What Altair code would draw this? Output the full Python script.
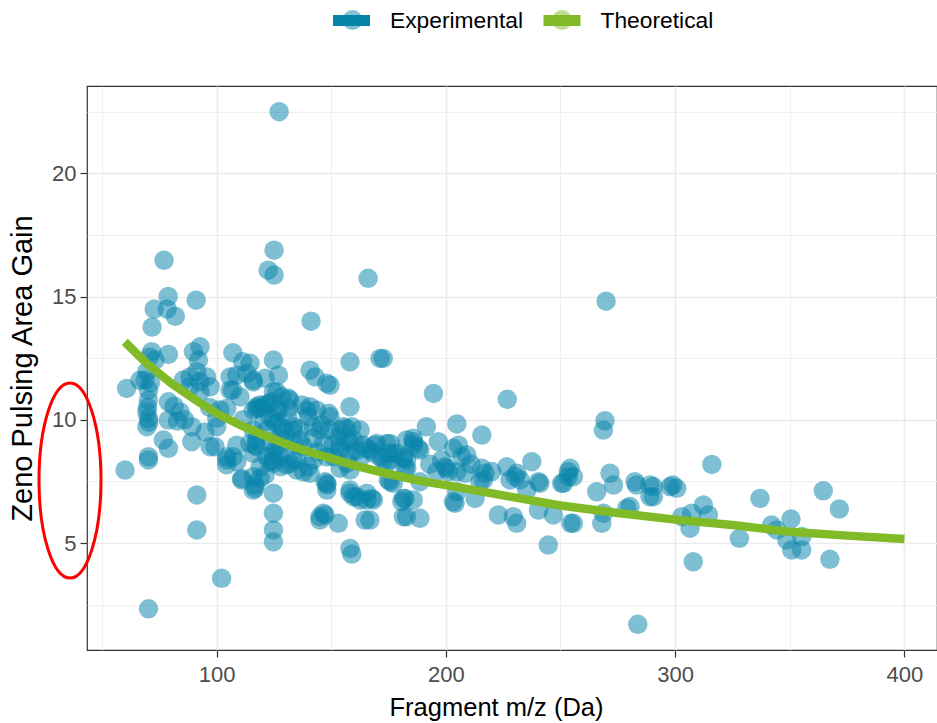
import altair as alt
import pandas as pd

# ---------------- data ----------------
exp_mz = [
    127.3, 77.1, 125.1, 122.5, 125.1, 166.1, 78.9, 72.8, 78.5, 82.0, 91.1, 141.2, 269.9, 71.9,
    71.7, 73.2, 79.0, 89.9, 92.8, 92.1, 107.1, 111.4, 60.8, 68.8,
    69.6, 70.3, 70.3, 69.6, 70.3, 69.6, 79.0, 79.0, 84.1, 85.5,
    88.4, 91.4, 92.8, 95.7, 97.2, 92.8, 88.4, 89.2, 89.2, 97.2,
    100.1, 100.1, 104.4, 105.9, 108.8, 105.9, 110.2, 113.2, 116.0, 117.5,
    76.8, 79.0, 70.3, 70.3, 60.1, 99.3, 104.4, 108.8, 104.4, 108.8,
    111.0, 116.0, 116.0, 91.4, 91.4, 102.2, 70.3, 70.8, 71.2, 69.9,
    70.5, 81.5, 83.0, 66.6, 86.0, 97.0, 101.5, 107.0, 111.6, 95.0,
    124.8, 127.0, 140.8, 148.1, 158.2, 171.3, 158.2, 143.0, 121.2, 116.0,
    124.8, 131.3, 140.8, 148.8, 116.0, 119.0, 122.6, 126.3, 124.8, 128.4,
    133.5, 127.7, 136.4, 142.2, 145.1, 153.9, 159.0, 162.6, 156.8, 161.1,
    166.9, 168.3, 116.0, 121.9, 124.8, 127.7, 133.5, 135.0, 140.8, 148.1,
    148.1, 158.2, 162.6, 165.5, 168.4, 145.1, 146.6, 153.1, 164.8, 158.2,
    159.0, 124.8, 124.8, 124.8, 124.8, 119.0, 111.0, 104.4, 107.3, 117.5,
    127.7, 142.2, 150.9, 153.9, 114.6, 126.3, 132.0, 139.3, 149.5, 145.9,
    149.5, 156.6, 158.2, 164.0, 169.1, 174.2, 177.1, 172.7, 182.9, 181.5,
    175.7, 181.5, 159.7, 167.7, 147.3, 148.1, 147.3, 137.9, 132.0, 124.8,
    119.0, 116.0, 116.8, 117.5, 121.2, 124.1, 127.0, 131.3, 123.3, 126.3,
    129.2, 133.5, 117.5, 114.6, 123.3, 124.8, 123.3, 130.6, 135.0, 140.0,
    137.9, 142.2, 146.6, 148.1, 153.1, 153.9, 158.2, 162.6, 156.8, 165.5,
    153.9, 158.2, 158.2, 136.4, 140.0, 143.7, 137.2, 128.4, 119.0, 116.8,
    116.8, 121.2, 155.3, 159.7, 169.8, 175.7, 178.6, 174.2, 182.9, 182.9,
    177.1, 180.8, 181.5, 165.5, 161.1, 145.1, 172.7, 149.5, 171.3, 175.0,
    175.7, 130.0, 126.0, 122.0, 128.0, 134.0, 144.0, 151.0, 120.5, 131.0,
    194.6, 226.8, 191.5, 204.8, 215.7, 185.8, 185.8, 188.0, 196.7, 203.3,
    205.5, 209.1, 198.2, 200.4, 201.1, 204.8, 208.4, 215.7, 217.1, 216.4,
    226.6, 230.2, 232.4, 237.5, 240.4, 235.3, 250.5, 253.4, 253.4, 181.5,
    182.2, 182.2, 182.9, 188.7, 204.0, 212.7, 222.9, 229.4, 230.9, 240.4,
    246.9, 244.7, 254.5, 204.8, 269.4, 268.7, 254.2, 255.6, 251.3, 271.6,
    273.1, 265.8, 282.5, 283.2, 289.0, 289.0, 297.8, 268.7, 268.0, 278.9,
    280.3, 255.6, 283.7, 231.0, 228.0, 241.0, 214.9, 203.3, 188.7, 185.8,
    166.9, 174.9, 185.8, 188.7, 199.6, 206.9, 193.0, 196.0, 211.0, 220.0,
    316.0, 290.5, 290.5, 299.0, 300.7, 302.9, 307.2, 306.5, 312.3, 314.5,
    307.9, 328.0, 337.0, 342.1, 344.3, 350.5, 348.7, 350.8, 355.2, 355.2,
    364.6, 371.6, 367.5,
]
exp_gain = [
    22.5, 16.47, 16.88, 16.07, 15.87, 15.74, 15.0, 14.49, 14.49, 14.2, 14.85, 14.0, 14.81, 13.76,
    12.76, 12.42, 12.65, 12.76, 12.96, 12.42, 12.72, 12.35, 11.27, 11.61,
    11.95, 11.2, 10.8, 10.32, 10.06, 9.72, 10.73, 9.99, 10.32, 11.61,
    11.74, 11.95, 11.54, 11.74, 11.34, 11.13, 11.34, 9.72, 9.11, 8.91,
    9.72, 10.06, 10.46, 11.74, 11.81, 11.2, 10.93, 11.88, 11.61, 10.46,
    9.18, 8.84, 8.5, 8.37, 7.96, 8.91, 8.5, 8.97, 8.17, 8.3,
    7.56, 7.15, 9.58, 6.95, 5.53, 3.57, 2.33, 12.55, 11.5, 10.5,
    9.9, 10.55, 9.95, 11.6, 10.0, 10.5, 10.4, 11.2, 10.0, 9.5,
    12.42, 11.81, 12.01, 11.48, 12.35, 12.49, 10.53, 11.74, 11.68, 11.54,
    11.13, 10.87, 10.53, 10.26, 10.39, 10.6, 10.66, 10.39, 9.99, 9.72,
    9.58, 9.31, 9.18, 9.72, 9.58, 9.58, 9.72, 9.58, 9.18, 8.77,
    8.77, 8.65, 8.64, 8.5, 8.37, 8.5, 8.37, 7.96, 7.83, 7.42,
    7.15, 7.02, 6.75, 7.02, 6.75, 6.07, 6.21, 5.8, 5.93, 4.78,
    4.55, 7.02, 6.21, 5.53, 5.05, 7.62, 7.62, 8.37, 8.5, 8.91,
    8.91, 8.37, 8.5, 8.91, 12.29, 11.13, 10.8, 10.39, 10.12, 9.79,
    9.58, 9.65, 9.04, 8.97, 8.97, 9.04, 8.64, 8.37, 9.18, 8.5,
    7.49, 6.81, 6.88, 6.81, 6.14, 7.35, 7.49, 7.89, 8.23, 8.23,
    8.09, 7.69, 7.22, 10.53, 10.6, 10.73, 10.39, 10.46, 10.12, 9.85,
    9.58, 9.72, 9.18, 9.04, 9.04, 8.64, 8.3, 8.17, 8.37, 8.09,
    8.91, 9.25, 9.04, 8.5, 9.31, 8.77, 8.57, 8.44, 8.23, 8.84,
    8.03, 7.96, 7.15, 9.65, 10.12, 10.39, 10.6, 10.93, 10.46, 8.97,
    7.35, 7.76, 9.72, 9.18, 9.04, 9.04, 8.64, 8.23, 8.37, 8.03,
    7.42, 6.68, 6.07, 6.75, 6.88, 5.93, 12.49, 11.4, 8.5, 8.65,
    8.37, 9.2, 8.9, 9.6, 8.1, 9.0, 8.7, 9.0, 9.9, 10.1,
    11.07, 10.83, 9.72, 9.83, 9.38, 9.25, 8.97, 8.84, 9.11, 8.84,
    8.97, 8.57, 8.37, 8.03, 7.89, 7.89, 7.83, 8.03, 7.83, 7.56,
    8.09, 7.69, 7.56, 8.3, 7.49, 7.15, 7.42, 7.89, 7.69, 8.44,
    8.03, 6.81, 6.07, 6.0, 6.61, 6.81, 6.14, 6.07, 5.8, 6.34,
    6.14, 4.92, 5.8, 7.08, 9.96, 9.58, 8.03, 7.69, 7.42, 7.83,
    7.35, 7.08, 7.49, 7.35, 7.35, 6.88, 7.29, 6.21, 5.8, 6.41,
    6.48, 5.8, 1.7, 7.83, 7.56, 7.42, 7.49, 6.68, 7.49, 6.75,
    5.93, 7.56, 9.11, 8.77, 8.09, 8.5, 8.2, 7.9, 8.2, 7.9,
    8.19, 7.29, 6.88, 7.35, 7.22, 6.07, 6.21, 5.6, 6.54, 6.14,
    4.24, 5.19, 6.81, 5.73, 5.53, 5.97, 5.12, 4.72, 4.72, 5.26,
    7.12, 6.38, 4.34,
]
theo_mz = [60, 65, 70, 80, 90, 100, 110, 120, 130, 140, 150, 160, 175, 190, 200,
           225, 250, 275, 300, 325, 350, 375, 400]
theo_gain = [13.16, 12.7, 12.25, 11.5, 10.85, 10.26, 9.8, 9.4, 9.03, 8.7, 8.44, 8.15,
             7.8, 7.5, 7.35, 6.93, 6.52, 6.22, 5.95, 5.73, 5.46, 5.3, 5.16]

series_names = ["Experimental", "Theoretical"]
series_colors = ["#0784AA", "#80BA27"]
x_tick_values = [50, 100, 150, 200, 250, 300, 350, 400]
y_tick_values = [2.5, 5, 7.5, 10, 12.5, 15, 17.5, 20, 22.5]
x_domain = [43.5, 414.2]
y_domain = [0.66, 23.54]

assert len(exp_mz) == len(exp_gain)

pts = pd.DataFrame({"mz": exp_mz, "gain": exp_gain, "series": "Experimental"})
line = pd.DataFrame({"mz": theo_mz, "gain": theo_gain, "series": "Theoretical"})

FONT = "Liberation Sans"

xscale = alt.Scale(domain=x_domain, nice=False, zero=False)
yscale = alt.Scale(domain=y_domain, nice=False, zero=False)

xaxis = alt.Axis(
    values=x_tick_values,
    title="Fragment m/z (Da)",
    labelExpr="datum.value % 100 === 0 ? datum.label : ''",
    gridWidth={"condition": {"test": "datum.value % 100 === 0", "value": 1.6}, "value": 0.8},
    tickOpacity={"condition": {"test": "datum.value % 100 === 0", "value": 1}, "value": 0},
    labelPadding=7,
    labelFlush=False,
    titleX=409, titleY=65, titleAlign="center", titleBaseline="alphabetic",
    titleFontSize=25.5,
)
yaxis = alt.Axis(
    values=y_tick_values,
    title="Zeno Pulsing Area Gain",
    labelExpr="datum.value % 5 === 0 ? datum.label : ''",
    gridWidth={"condition": {"test": "datum.value % 5 === 0", "value": 1.6}, "value": 0.8},
    tickOpacity={"condition": {"test": "datum.value % 5 === 0", "value": 1}, "value": 0},
    labelPadding=4,
    labelFlush=False,
    titleX=-55.5, titleY=282, titleAlign="center", titleBaseline="alphabetic",
    titleAngle=270, titleFontSize=29,
)

# light circles of the legend keys (no labels of their own)
points = alt.Chart(pts).mark_circle(size=380, opacity=0.52).encode(
    x=alt.X("mz:Q", scale=xscale, axis=xaxis),
    y=alt.Y("gain:Q", scale=yscale, axis=yaxis),
    color=alt.Color(
        "series:N",
        scale=alt.Scale(domain=series_names, range=series_colors),
        legend=alt.Legend(
            orient="none", legendX=254.5, legendY=-77, direction="horizontal",
            columns=2, title=None, symbolType="circle", symbolSize=400,
            symbolOpacity=0.5, symbolStrokeWidth=0, labelOffset=0,
            labelExpr="''", columnPadding=187.5, labelFontSize=22,
            labelFont=FONT, padding=0,
        ),
    ),
)

# dark bars of the legend keys with the labels
theory = alt.Chart(line).mark_line(strokeWidth=8.5, strokeCap="butt").encode(
    x=alt.X("mz:Q", scale=xscale),
    y=alt.Y("gain:Q", scale=yscale),
    color=alt.Color(
        "series:N",
        scale=alt.Scale(domain=series_names, range=series_colors),
        legend=alt.Legend(
            orient="none", legendX=240.5, legendY=-89.5, direction="horizontal",
            columns=2, title=None, symbolType="stroke", symbolSize=1369,
            symbolStrokeWidth=11, symbolOpacity=1, labelOffset=14.5,
            labelColor="black", columnPadding=-2.5, labelFontSize=22.8,
            labelFont=FONT, padding=0,
        ),
    ),
)

ellipse = alt.Chart(pd.DataFrame({"k": [0]})).mark_point(
    shape="M0,-1A0.318,1 0 1,1 0,1A0.318,1 0 1,1 0,-1Z",
    size=38025, filled=False, stroke="#FF0000", strokeWidth=3, opacity=1,
).encode(x=alt.value(-17), y=alt.value(394.5))

chart = (
    alt.layer(points, theory, ellipse)
    .resolve_scale(color="independent")
    .properties(
        width=850, height=564,
        padding={"left": 87, "top": 86, "right": 0, "bottom": 73},
        autosize=alt.AutoSizeParams(type="none"),
        background="white",
    )
    .configure_view(stroke="#333333", strokeWidth=1.2)
    .configure_axis(
        labelFont=FONT, labelFontSize=22, labelColor="#4D4D4D",
        titleFont=FONT, titleColor="black", titleFontWeight="normal",
        tickColor="#333333", tickSize=7, tickWidth=1.2,
        gridColor="#EBEBEB", domain=False,
    )
)

chart.save("out.html", embed_options={"renderer": "svg", "actions": False})
